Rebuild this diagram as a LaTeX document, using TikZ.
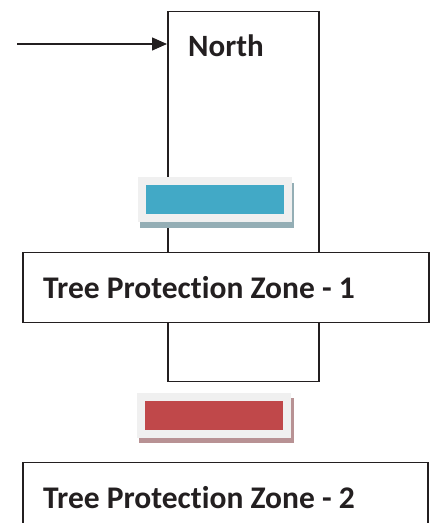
\documentclass[tikz,border=0pt]{standalone}
\usepackage{fontspec}
\setmainfont{Carlito}[Ligatures=CommonOff]
\usetikzlibrary{arrows.meta}
\definecolor{panelgray}{HTML}{F0F0F0}
\definecolor{tagblue}{HTML}{42A9C6}
\definecolor{blueshadow}{HTML}{94AEB5}
\definecolor{tagred}{HTML}{C0484A}
\definecolor{redshadow}{HTML}{B89294}
\definecolor{ink}{HTML}{231F20}
\begin{document}
\begin{tikzpicture}[x=1pt,y=1pt,
  frame/.style={draw=ink, line width=1.5pt, fill=white, inner sep=0pt, anchor=north west},
  lbl/.style={font=\bfseries\fontsize{31.5}{36}\selectfont, text=ink, inner sep=0pt, anchor=base west},
  panel/.style={fill=panelgray, draw=none, inner sep=0pt, anchor=north west},
  shadowbox/.style={draw=none, inner sep=0pt, anchor=north west},
  tag/.style={draw=none, inner sep=0pt, anchor=north west}]
\useasboundingbox (0,0) rectangle (432,523);
\clip (0,0) rectangle (432,523);
% tall rectangle
\node[frame, minimum width=151, minimum height=370] (pole) at (167,512) {};
\node[lbl, font=\bfseries\fontsize{31}{36}\selectfont] (north) at (188,466) {North};
\coordinate (arrstart) at (17,479);
\draw[ink, line width=1.3pt, -{Triangle[length=15pt,width=13pt]}] (arrstart) -- (arrstart -| pole.west);
% TPZ 1
\node[frame, minimum width=406, minimum height=70] (tpz1) at (22,271) {};
\node[lbl] (tpz1text) at (43,224) {Tree Protection Zone - 1};
% TPZ 2
\node[frame, minimum width=405, minimum height=100] (tpz2) at (22,61) {};
\node[lbl] (tpz2text) at (43,15) {Tree Protection Zone - 2};
% blue tag
\node[shadowbox, fill=blueshadow, minimum width=154, minimum height=45] (blueshad) at (140,340) {};
\node[panel, minimum width=154, minimum height=45] (bluepanel) at (138,346) {};
\node[tag, fill=tagblue, minimum width=138, minimum height=29] (bluetag) at (146,338) {};
% red tag
\node[shadowbox, fill=redshadow, minimum width=155, minimum height=45] (redshad) at (139,125) {};
\node[panel, minimum width=154, minimum height=45] (redpanel) at (137,130) {};
\node[tag, fill=tagred, minimum width=138, minimum height=29] (redtag) at (145,122) {};
\end{tikzpicture}
\end{document}
